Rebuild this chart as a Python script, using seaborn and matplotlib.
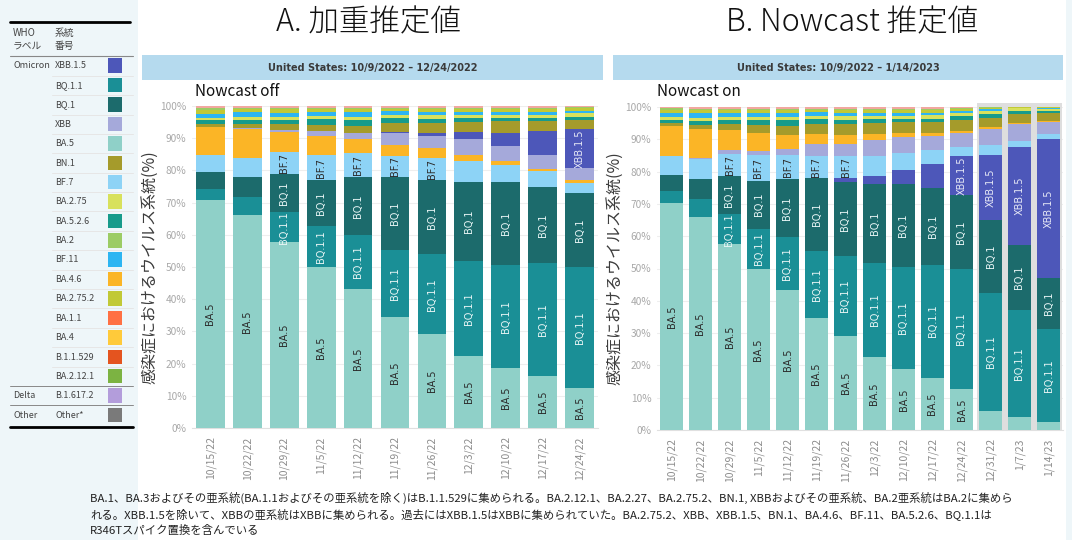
import matplotlib
matplotlib.use("Agg")
import matplotlib.pyplot as plt
from matplotlib.patches import Rectangle
import numpy as np
import seaborn as sns

# ---- data -------------------------------------------------------------
dates_a = ["10/15/22", "10/22/22", "10/29/22", "11/5/22", "11/12/22", "11/19/22",
           "11/26/22", "12/3/22", "12/10/22", "12/17/22", "12/24/22"]
dates_b = dates_a + ["12/31/22", "1/7/23", "1/14/23"]

# A: weighted estimates (nowcast off), % per week
a_ba5 = [70.8, 66.1, 57.7, 49.9, 43.1, 34.4, 29.1, 22.3, 18.5, 16.1, 12.4]
a_bq11 = [3.5, 5.6, 9.3, 12.8, 16.8, 20.9, 24.9, 29.7, 32.2, 35.0, 37.5]
a_bq1 = [5.1, 6.3, 11.8, 14.3, 18.0, 22.6, 23.0, 24.5, 25.8, 23.8, 23.2]
a_bf7 = [5.4, 5.9, 7.0, 7.8, 7.4, 6.7, 6.9, 6.4, 5.2, 4.9, 2.9]
a_ba46 = [8.6, 8.9, 6.1, 5.9, 4.5, 3.3, 3.1, 1.9, 1.2, 0.7, 1.0]
a_xbb = [0.2, 0.4, 0.7, 1.5, 1.7, 3.6, 3.7, 4.9, 4.7, 4.3, 3.8]
a_xbb15 = [0.0, 0.0, 0.0, 0.0, 0.0, 0.3, 1.0, 2.1, 4.1, 7.4, 12.0]
a_bn1 = [0.9, 1.3, 1.7, 2.0, 2.2, 2.8, 3.0, 3.3, 3.6, 3.1, 2.9]
a_ba526 = [1.1, 1.3, 1.4, 1.8, 1.8, 1.6, 1.4, 1.1, 1.0, 1.0, 1.0]
a_ba275 = [0.8, 0.9, 1.0, 1.0, 1.0, 1.0, 1.0, 1.0, 1.0, 1.0, 1.1]
a_bf11 = [1.2, 1.3, 1.2, 1.0, 1.5, 1.3, 1.0, 0.8, 0.7, 0.7, 0.7]
a_ba2752 = [1.3, 1.0, 1.1, 1.0, 1.0, 0.5, 0.9, 1.0, 1.0, 1.0, 0.9]
a_ba2 = [0.5, 0.5, 0.5, 0.5, 0.5, 0.5, 0.5, 0.5, 0.5, 0.5, 0.3]
a_rest = [0.6, 0.5, 0.5, 0.5, 0.5, 0.5, 0.5, 0.5, 0.5, 0.5, 0.3]

# B: nowcast estimates (nowcast on)
b_ba5 = [70.4, 65.8, 57.5, 49.8, 43.2, 34.6, 29.1, 22.5, 18.9, 16.2, 12.7, 5.9, 3.9, 2.6]
b_bq11 = [3.7, 5.8, 9.3, 12.5, 16.5, 20.7, 24.8, 29.2, 31.7, 35.0, 37.1, 36.5, 33.3, 28.7]
b_bq1 = [4.9, 6.2, 11.7, 14.9, 18.0, 22.7, 23.0, 24.4, 25.6, 23.7, 23.0, 22.7, 20.1, 15.7]
b_xbb15 = [0.0, 0.0, 0.0, 0.0, 0.0, 0.0, 1.1, 2.6, 4.4, 7.3, 11.9, 20.1, 30.3, 43.1]
b_bf7 = [5.7, 6.1, 7.0, 7.8, 7.5, 6.7, 6.7, 6.0, 5.1, 4.6, 2.8, 3.1, 2.0, 1.5]
b_xbb = [0.2, 0.4, 1.2, 1.5, 1.9, 3.9, 3.9, 5.0, 4.9, 4.1, 4.4, 4.9, 5.1, 3.9]
b_ba46 = [9.1, 8.9, 6.1, 5.6, 4.3, 3.0, 2.8, 1.9, 1.3, 1.2, 0.8, 0.5, 0.3, 0.2]
b_bn1 = [0.9, 1.3, 1.8, 2.2, 2.6, 3.1, 3.4, 3.5, 3.4, 3.3, 3.4, 3.0, 2.9, 2.4]
b_ba526 = [1.1, 1.3, 1.3, 1.6, 1.9, 1.6, 1.3, 1.2, 1.0, 1.0, 1.0, 1.0, 0.8, 0.7]
b_ba275 = [0.9, 0.9, 1.0, 1.0, 1.0, 1.0, 1.0, 1.0, 1.0, 1.0, 1.1, 1.1, 0.9, 0.7]
b_bf11 = [1.2, 1.3, 1.2, 1.2, 1.2, 1.2, 1.0, 0.8, 0.8, 0.8, 0.6, 0.5, 0.2, 0.2]
b_ba2752 = [1.0, 1.0, 0.9, 0.9, 0.9, 0.5, 0.9, 0.9, 0.9, 0.8, 0.7, 0.4, 0.1, 0.2]
b_ba2 = [0.5, 0.5, 0.5, 0.5, 0.5, 0.5, 0.5, 0.5, 0.5, 0.5, 0.3, 0.2, 0.05, 0.05]
b_rest = [0.4, 0.5, 0.5, 0.5, 0.5, 0.5, 0.5, 0.5, 0.5, 0.5, 0.2, 0.1, 0.05, 0.05]

colors = {
    "XBB.1.5": "#4d57b9", "BQ.1.1": "#1a8f96", "BQ.1": "#1c6b6c", "XBB": "#a5a9da",
    "BA.5": "#8fd0c8", "BN.1": "#a59b2b", "BF.7": "#8dd3f6", "BA.2.75": "#d8e15c",
    "BA.5.2.6": "#179b8b", "BA.2": "#9ccc65", "BF.11": "#2db5f2", "BA.4.6": "#fbb526",
    "BA.2.75.2": "#c1c936", "BA.1.1": "#ff7043", "BA.4": "#ffca3a",
    "B.1.1.529": "#e4541f", "BA.2.12.1": "#7cb342", "B.1.617.2": "#b39ddb",
    "Other*": "#7a7a7a", "rest": "#f2a7a0",
}

# stacking, bottom -> top
stack_a = [("BA.5", a_ba5), ("BQ.1.1", a_bq11), ("BQ.1", a_bq1), ("BF.7", a_bf7),
           ("BA.4.6", a_ba46), ("XBB", a_xbb), ("XBB.1.5", a_xbb15), ("BN.1", a_bn1),
           ("BA.5.2.6", a_ba526), ("BA.2.75", a_ba275), ("BF.11", a_bf11),
           ("BA.2.75.2", a_ba2752), ("BA.2", a_ba2), ("rest", a_rest)]
stack_b = [("BA.5", b_ba5), ("BQ.1.1", b_bq11), ("BQ.1", b_bq1), ("XBB.1.5", b_xbb15),
           ("BF.7", b_bf7), ("XBB", b_xbb), ("BA.4.6", b_ba46), ("BN.1", b_bn1),
           ("BA.5.2.6", b_ba526), ("BA.2.75", b_ba275), ("BF.11", b_bf11),
           ("BA.2.75.2", b_ba2752), ("BA.2", b_ba2), ("rest", b_rest)]

# segment labels: minimum share to be written, text colour
label_min = {"BA.5": 6.5, "BQ.1.1": 6.5, "BQ.1": 6.5, "BF.7": 6.5, "XBB.1.5": 10}
label_col = {"BA.5": "#2b2b2b", "BQ.1.1": "#e6f4f4", "BQ.1": "#e6f4f4",
             "BF.7": "#2b2b2b", "XBB.1.5": "#e6e8f6"}

legend_who = ["Omicron"] + [""] * 16 + ["Delta", "Other"]
legend_names = ["XBB.1.5", "BQ.1.1", "BQ.1", "XBB", "BA.5", "BN.1", "BF.7", "BA.2.75",
                "BA.5.2.6", "BA.2", "BF.11", "BA.4.6", "BA.2.75.2", "BA.1.1", "BA.4",
                "B.1.1.529", "BA.2.12.1", "B.1.617.2", "Other*"]

caption = [
    "BA.1、BA.3およびその亜系統(BA.1.1およびその亜系統を除く)はB.1.1.529に集められる。BA.2.12.1、BA.2.27、BA.2.75.2、BN.1, XBBおよびその亜系統、BA.2亜系統はBA.2に集めら",
    "れる。XBB.1.5を除いて、XBBの亜系統はXBBに集められる。過去にはXBB.1.5はXBBに集められていた。BA.2.75.2、XBB、XBB.1.5、BN.1、BA.4.6、BF.11、BA.5.2.6、BQ.1.1は",
    "R346Tスパイク置換を含んでいる",
]

# ---- figure -----------------------------------------------------------
sns.set_style("white")
plt.rcParams["font.family"] = ["Noto Sans CJK JP", "DejaVu Sans"]

W, H = 1072, 540
fig = plt.figure(figsize=(W / 100, H / 100), dpi=100, facecolor="#eef6f9")


def fx(x):
    return x / W


def fy(y):
    return 1 - y / H


fig.patches.append(Rectangle((fx(138), 0), fx(1066) - fx(138), 1, transform=fig.transFigure,
                             facecolor="white", edgecolor="none", zorder=-5))


def draw_panel(ax, dates, stack):
    names = [n for n, _ in stack]
    vals = np.array([v for _, v in stack])
    cum = np.cumsum(vals, axis=0)
    # overlay cumulative bars from the top layer down
    for k in range(len(names) - 1, -1, -1):
        sns.barplot(x=dates, y=cum[k], color=colors[names[k]], width=0.78, saturation=1,
                    linewidth=0, errorbar=None, ax=ax, zorder=3)
    for k, name in enumerate(names):
        if name not in label_min:
            continue
        for i in range(len(dates)):
            if vals[k, i] >= label_min[name]:
                ax.text(i, cum[k, i] - vals[k, i] / 2, name, rotation=90, ha="center",
                        va="center", fontsize=7, color=label_col[name],
                        family="DejaVu Sans", zorder=5)
    ax.set_ylim(0, 100)
    ax.set_xlim(-0.5, len(dates) - 0.5)
    ax.set_yticks(range(0, 101, 10))
    ax.set_yticklabels([f"{t}%" for t in range(0, 101, 10)])
    ax.yaxis.grid(True, color="#eeeeee", linewidth=0.8, zorder=0)
    ax.set_axisbelow(True)
    ax.tick_params(axis="y", length=0, pad=4, labelsize=7.3, labelcolor="#a8a8a8")
    ax.tick_params(axis="x", length=0, pad=6, labelsize=7.5, labelcolor="#8c8c8c",
                   labelrotation=90)
    for s in ["left", "right", "top"]:
        ax.spines[s].set_visible(False)
    ax.spines["bottom"].set_color("#e0e0e0")
    ax.set_xlabel("")
    ax.set_ylabel("")
    ax.set_facecolor("none")


axA = fig.add_axes([fx(192), fy(428), (598 - 192) / W, (428 - 106) / H], zorder=3)
axB = fig.add_axes([fx(657), fy(430), (1063 - 657) / W, (430 - 107) / H], zorder=3)

# shaded weeks in B (nowcast only)
axB.add_patch(Rectangle((10.55, 0), 2.9, 101.2, facecolor="#dedede", edgecolor="none",
                        clip_on=False, zorder=1))

draw_panel(axA, dates_a, stack_a)
draw_panel(axB, dates_b, stack_b)

# titles, banners
fig.text(fx(368), fy(22), "A. 加重推定値", fontsize=22, fontweight="light", ha="center",
         va="center", color="#111111")
fig.text(fx(852), fy(22), "B. Nowcast 推定値", fontsize=22, fontweight="light", ha="center",
         va="center", color="#111111")
for x0, x1, txt in [(142, 603, "United States: 10/9/2022 – 12/24/2022"),
                    (613, 1063, "United States: 10/9/2022 – 1/14/2023")]:
    fig.patches.append(Rectangle((fx(x0), fy(80)), (x1 - x0) / W, 25 / H,
                                 transform=fig.transFigure, facecolor="#b5daee",
                                 edgecolor="none", zorder=1))
    fig.text(fx((x0 + x1) / 2), fy(67.5), txt, fontsize=7, fontweight="bold",
             ha="center", va="center", color="#3a3a3a", family="DejaVu Sans")
fig.text(fx(195), fy(92), "Nowcast off", fontsize=11, ha="left", va="center", color="#111111")
fig.text(fx(657), fy(92), "Nowcast on", fontsize=11, ha="left", va="center", color="#111111")

ylab = "感染症におけるウイルス系統(%)"
fig.text(fx(150), fy(267), ylab, rotation=90, fontsize=11.5, ha="center", va="center", color="#3c3c3c")
fig.text(fx(615), fy(268), ylab, rotation=90, fontsize=11.5, ha="center", va="center", color="#3c3c3c")

# lineage colour table
fig.add_artist(plt.Line2D([fx(10), fx(130)], [fy(22), fy(22)], color="black", linewidth=2))
fig.text(fx(13), fy(33), "WHO", fontsize=7, color="#444444", va="center")
fig.text(fx(13), fy(46), "ラベル", fontsize=7, color="#444444", va="center")
fig.text(fx(55), fy(33), "系統", fontsize=7, color="#444444", va="center")
fig.text(fx(55), fy(46), "番号", fontsize=7, color="#444444", va="center")
fig.add_artist(plt.Line2D([fx(10), fx(133)], [fy(56), fy(56)], color="#888888", linewidth=0.8))
row_h = 19.4
for r, (who, name) in enumerate(zip(legend_who, legend_names)):
    yc = 66 + r * row_h
    if who:
        fig.text(fx(13), fy(yc), who, fontsize=6.5, color="#444444", va="center")
    fig.text(fx(55), fy(yc), name, fontsize=6.5, color="#444444", va="center")
    fig.patches.append(Rectangle((fx(108), fy(yc + 7)), 14 / W, 14.5 / H,
                                 transform=fig.transFigure, facecolor=colors[name],
                                 edgecolor="none"))
    if r < len(legend_names) - 1:
        sep = "#888888" if r in (16, 17) else "#e6e6e6"
        x_start = 10 if r in (16, 17) else 52
        fig.add_artist(plt.Line2D([fx(x_start), fx(133)], [fy(yc + 9.7), fy(yc + 9.7)],
                                  color=sep, linewidth=0.7))
fig.add_artist(plt.Line2D([fx(10), fx(133)], [fy(427), fy(427)], color="black", linewidth=2))

# footnote
for k, line in enumerate(caption):
    fig.text(fx(90), fy(498 + k * 16), line, fontsize=8.2, color="#222222", va="center")

fig.savefig("out.png", dpi=100, facecolor=fig.get_facecolor())
